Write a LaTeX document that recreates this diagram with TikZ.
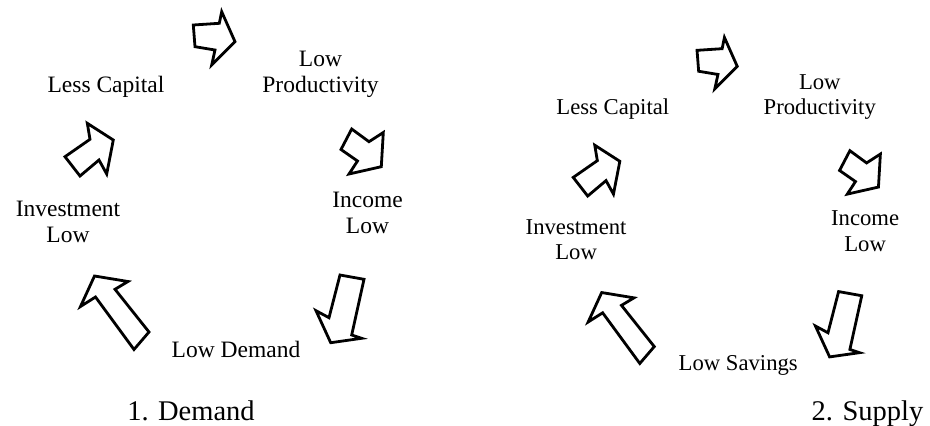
\documentclass[tikz,border=0pt]{standalone}
\usepackage{fontspec}
\setmainfont{Liberation Serif}
\usepackage{tikz}

\begin{document}
\begin{tikzpicture}[x=1pt,y=-1pt,
  lbl/.style={align=center,inner sep=0pt,anchor=base,font=\fontsize{23.5}{26}\selectfont},
  caption/.style={inner sep=0pt,anchor=base,font=\fontsize{28.5}{32}\selectfont},
  blockarrow/.style={draw=black,line width=2.8pt,line join=miter}]

  \useasboundingbox (0,0) rectangle (930,426);

  \foreach \i/\dx/\dy/\s/\bottom in {1/0/0/1/Low Demand, 2/510.5/26.2/0.965/Low Savings}
  {
    \begin{scope}[shift={(\dx,\dy)},scale=\s,transform shape]
      \node (cap\i) at (106,92) [lbl] {Less Capital};
      \node (prod\i) at (320.5,92) [lbl] {Low\\Productivity};
      \node (inc\i) at (367.5,233) [lbl] {Income\\Low};
      \node (low\i) at (236,357) [lbl] {\bottom};
      \node (inv\i) at (68,242) [lbl] {Investment\\Low};

      % capital -> productivity
      \draw [blockarrow] (193.3,25) -- (219.3,23.3) -- (221.7,11.7) -- (235,41.7)
        -- (211.7,65) -- (215,50) -- (195,46.7) -- cycle;
      % productivity -> income
      \draw [blockarrow] (351.7,129) -- (369,141.7) -- (383.3,132.5) -- (381.3,166.7)
        -- (349,174) -- (357.5,161) -- (341,149.5) -- cycle;
      % income -> bottom
      \draw [blockarrow] (340,275) -- (364,279.3) -- (351.7,335) -- (361.7,338.3)
        -- (330.7,342.7) -- (316,310.7) -- (329,317.7) -- cycle;
      % bottom -> investment
      \draw [blockarrow] (94.5,276) -- (128,281.5) -- (115,289.3) -- (149,332)
        -- (134,349.5) -- (95.5,297) -- (80.5,306.5) -- cycle;
      % investment -> capital
      \draw [blockarrow] (87.3,123.3) -- (113.3,140) -- (106.7,174) -- (99,160)
        -- (80,176) -- (65,156.7) -- (90,139.3) -- cycle;
    \end{scope}
  }

  \node (demand) at (191,420) [caption] {1. Demand};
  \node (supply) at (867.5,420) [caption] {2. Supply};

\end{tikzpicture}
\end{document}
